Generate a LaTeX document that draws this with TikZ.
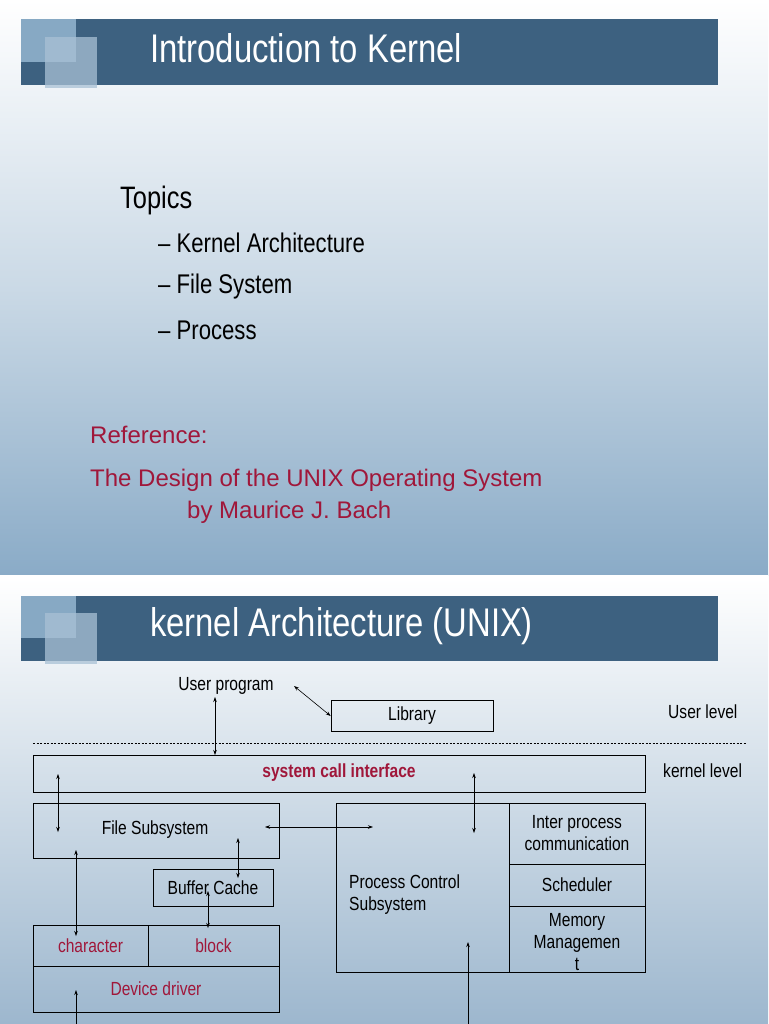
\documentclass[tikz,border=0pt]{standalone}
\usepackage{fontspec}
\setmainfont{Liberation Sans}
\newfontfamily\narrowf[FakeStretch=0.82]{Liberation Sans}
\usetikzlibrary{arrows.meta}
\definecolor{barblue}{HTML}{3D6180}
\definecolor{sqA}{HTML}{87A9C4}
\definecolor{sqB}{HTML}{A9C1D5}
\definecolor{bgbot}{HTML}{8AABC7}
\definecolor{bgbotB}{HTML}{9DB7CE}
\definecolor{refred}{HTML}{A0173A}
\tikzset{
  box/.style={draw=black, line width=0.6pt, inner sep=0pt},
  lbl/.style={font=\narrowf\fontsize{19}{22}\selectfont, align=center, inner sep=0pt},
  redlbl/.style={lbl, text=refred},
  dar/.style={{Stealth[length=5pt,width=3.5pt]}-{Stealth[length=5pt,width=3.5pt]}, line width=0.6pt},
  uar/.style={-{Stealth[length=5pt,width=3.5pt]}, line width=0.8pt},
}
\begin{document}
\begin{tikzpicture}[x=1pt,y=-1pt]
\useasboundingbox (0,0) rectangle (768,1024);
% backgrounds
\shade[top color=white, bottom color=bgbot, middle color=white!55!bgbot] (0,0) rectangle (768,575);
\fill[white] (0,575) rectangle (768,578);
\shade[top color=white, bottom color=bgbotB, middle color=white!50!bgbotB] (0,578) rectangle (768,1024);
% slide 1 header
\fill[barblue] (21,19) rectangle (718,85);
\fill[sqA] (21,19) rectangle (76,62);
\fill[sqB, opacity=0.75] (45,37) rectangle (97,88);
\node[anchor=west, text=white, font=\narrowf\fontsize{40}{44}\selectfont, inner sep=0pt] (t1) at (150,48) {Introduction to Kernel};
% slide 1 body
\node[anchor=west, font=\narrowf\fontsize{31}{34}\selectfont, inner sep=0pt] (topics) at (120,200) {Topics};
\node[anchor=west, font=\narrowf\fontsize{27}{30}\selectfont, inner sep=0pt] (i1) at (158,243) {– Kernel Architecture};
\node[anchor=west, font=\narrowf\fontsize{27}{30}\selectfont, inner sep=0pt] (i2) at (158,287) {– File System};
\node[anchor=west, font=\narrowf\fontsize{27}{30}\selectfont, inner sep=0pt] (i3) at (158,330) {– Process};
\node[anchor=west, text=refred, font=\fontsize{24}{28}\selectfont, inner sep=0pt] (r1) at (90,435) {Reference:};
\node[anchor=west, text=refred, font=\fontsize{24}{28}\selectfont, inner sep=0pt] (r2) at (90,480) {The Design of the UNIX Operating System};
\node[anchor=west, text=refred, font=\fontsize{24}{28}\selectfont, inner sep=0pt] (r3) at (187,512) {by Maurice J. Bach};
% slide 2 header
\fill[barblue] (21,596) rectangle (718,661);
\fill[sqA] (21,596) rectangle (76,638);
\fill[sqB, opacity=0.75] (45,613) rectangle (97,664);
\node[anchor=west, text=white, font=\narrowf\fontsize{40}{44}\selectfont, inner sep=0pt] (t2) at (150,626) {kernel Architecture (UNIX)};
% diagram
\node[lbl] (up) at (226,686) {User program};
\node[box, minimum width=162pt, minimum height=31pt, lbl] (lib) at (412,716) {Library};
\node[lbl, anchor=west] (ul) at (668,712) {User level};
\node[lbl, anchor=west] (kl) at (663,771) {kernel level};
\coordinate (dl) at (33,743); \coordinate (dr) at (746,743);
\draw[dashed, line width=0.6pt, dash pattern=on 2pt off 1.5pt] (dl) -- (dr);
\node[box, minimum width=612pt, minimum height=37pt] (sci) at (339,773.5) {};
\node[lbl, text=refred, font=\bfseries\narrowf\fontsize{19}{22}\selectfont] (scit) at (339,773) {system call interface};
\node[box, minimum width=246pt, minimum height=55pt] (fs) at (156,830.5) {};
\node[lbl] (fst) at (155,830) {File Subsystem};
\node[box, minimum width=120pt, minimum height=37pt, lbl] (bc) at (213,887.5) {Buffer Cache};
\node[box, minimum width=115pt, minimum height=41pt, redlbl] (ch) at (90.5,945.5) {character};
\node[box, minimum width=131pt, minimum height=41pt, redlbl] (bl) at (213.5,945.5) {block};
\node[box, minimum width=246pt, minimum height=46pt, redlbl] (dd) at (156,989) {Device driver};
\node[box, minimum width=173pt, minimum height=169pt] (pc) at (422.5,887.5) {};
\node[lbl, align=left, anchor=west] (pct) at (349,895) {Process Control\\ Subsystem};
\node[box, minimum width=136pt, minimum height=61pt, lbl] (ipc) at (577,833.5) {Inter process\\communication};
\node[box, minimum width=136pt, minimum height=42pt, lbl] (sch) at (577,885) {Scheduler};
\node[box, minimum width=136pt, minimum height=66pt] (mm) at (577,939) {};
\node[lbl] (mmt) at (577,942) {Memory\\Managemen\\t};
% arrows
\coordinate (a1) at (215,697); \coordinate (a2) at (215,755);
\draw[dar] (a1) -- (a2);
\coordinate (b1) at (294,686);
\draw[dar] (b1) -- (lib.west);
\coordinate (c1) at (58,774); \coordinate (c2) at (58,832);
\draw[dar] (c1) -- (c2);
\coordinate (d1) at (265,827); \coordinate (d2) at (373,827);
\draw[dar] (d1) -- (d2);
\coordinate (e1) at (474,773); \coordinate (e2) at (474,833);
\draw[dar] (e1) -- (e2);
\coordinate (f1) at (238,838); \coordinate (f2) at (238,878);
\draw[dar] (f1) -- (f2);
\coordinate (g1) at (208,891); \coordinate (g2) at (208,928);
\draw[dar] (g1) -- (g2);
\coordinate (h1) at (76,850); \coordinate (h2) at (76,936);
\draw[dar] (h1) -- (h2);
\coordinate (k1) at (76,1024); \coordinate (k2) at (76,990);
\draw[uar] (k1) -- (k2);
\coordinate (m1) at (468,1024); \coordinate (m2) at (468,942);
\draw[uar] (m1) -- (m2);
\end{tikzpicture}
\end{document}
